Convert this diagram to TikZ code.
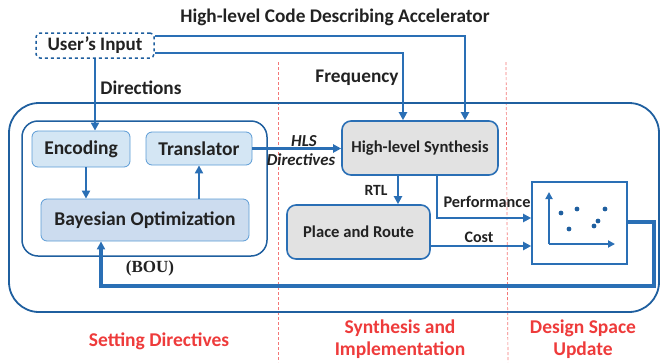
\documentclass[tikz,border=0pt]{standalone}
\usepackage{fontspec}
\setmainfont{Carlito}
\newfontfamily\serifbold{Liberation Serif}
\usetikzlibrary{arrows.meta}
\definecolor{lblue}{HTML}{2A6FB5}
\definecolor{dblue}{HTML}{1F5F9F}
\definecolor{encfill}{HTML}{D4E6F4}
\definecolor{bofill}{HTML}{CCDCEF}
\definecolor{encedge}{HTML}{5B9BD5}
\definecolor{greyfill}{HTML}{E2E2E2}
\definecolor{redtxt}{HTML}{EE3B3B}
\definecolor{txt}{HTML}{222222}
\tikzset{
  conn/.style={draw=lblue, line width=2.9pt, -{Triangle[length=8pt,width=8pt]}},
  lbl/.style={font=\bfseries\fontsize{19.3}{22}\selectfont, text=txt, inner sep=0pt},
  redlbl/.style={font=\bfseries\fontsize{19.5}{22}\selectfont, text=redtxt, inner sep=0pt, align=center},
  lightbox/.style={draw=encedge, line width=0.8pt, fill=encfill, rounded corners=6pt, font=\bfseries\fontsize{19.5}{22}\selectfont, text=txt},
  greybox/.style={draw=lblue, line width=1.6pt, fill=greyfill, rounded corners=9pt, font=\bfseries\fontsize{16.6}{20}\selectfont, text=txt},
  sepline/.style={draw=redtxt!70, line width=0.7pt, dash pattern=on 3pt off 2pt},
}
\begin{document}
\begin{tikzpicture}[x=1pt,y=-1pt]
\useasboundingbox (0,0) rectangle (660,362);
% separators
\draw[sepline] (278,62) -- (278,362);
\draw[sepline] (506,62) -- (508,362);
% outer and inner frames
\draw[dblue, line width=1.8pt, rounded corners=30pt] (9,103) rectangle (659,312);
\draw[dblue, line width=1.5pt, rounded corners=16pt] (22,121) rectangle (267,256);
% title
\node[lbl] (title) at (335,17) {High-level Code Describing Accelerator};
% nodes
\node[draw=dblue, line width=1.5pt, dashed, rounded corners=4pt, fill=white, minimum width=118pt, minimum height=25pt, inner sep=0pt, font=\bfseries\fontsize{19}{22}\selectfont, text=txt] (user) at (95,45.5) {User's Input};
\node[lightbox, minimum width=98pt, minimum height=36pt, inner sep=0pt] (enc) at (81,149) {Encoding};
\node[lightbox, minimum width=106pt, minimum height=33pt, inner sep=0pt] (trans) at (199,148.5) {Translator};
\node[lightbox, fill=bofill, minimum width=208pt, minimum height=42pt, inner sep=0pt] (bo) at (145,220) {Bayesian Optimization};
\node[greybox, minimum width=156pt, minimum height=54pt, inner sep=0pt] (hls) at (420,148) {High-level Synthesis};
\node[greybox, minimum width=143pt, minimum height=54pt, inner sep=0pt] (pr) at (358.5,232) {Place and Route};
\node[draw=lblue, line width=1.6pt, fill=white, minimum width=95pt, minimum height=82pt, inner sep=0pt] (graph) at (579.5,223) {};
% scatter plot
\coordinate (org) at (549,244);
\draw[draw=lblue, line width=2.6pt, -{Triangle[length=7pt,width=7pt]}] (org) -- (549,192);
\draw[draw=lblue, line width=2.6pt, -{Triangle[length=7pt,width=7pt]}] (org) -- (615,244);
\foreach \p in {(561,213),(577,209),(605,209),(569,229),(594,226),(598,221)}
  \fill[dblue] \p circle (2.4pt);
% connectors from user's input
\draw[conn] ([yshift=9.5pt]user.east) -| ([xshift=45pt]hls.north);
\draw[conn] ([yshift=-7.5pt]user.east) -| ([xshift=-17pt]hls.north);
\draw[conn] (user.south) -- (user.south |- enc.north);
% inner connectors
\draw[conn] ([xshift=5pt]enc.south) -- ([xshift=5pt]enc.south |- bo.north);
\draw[conn] (trans.south |- bo.north) -- (trans.south);
\draw[conn] (trans.east) -- (trans.east -| hls.west);
\draw[conn] ([xshift=-22pt]hls.south) -- ([xshift=-22pt]hls.south |- pr.north);
\draw[conn] ([xshift=17pt]hls.south) |- ([yshift=5pt]graph.west);
\draw[conn] ([yshift=-14pt]pr.east) -- ([yshift=-14pt]pr.east -| graph.west);
% feedback
\coordinate (fbt) at (654,222);
\coordinate (fbb) at (654,286);
\draw[draw=lblue, line width=3.3pt, -{Triangle[length=8pt,width=8pt]}] ([yshift=1pt]graph.east) -- (fbt) -- (fbb) -| ([xshift=-44pt]bo.south);
% labels
\node[lbl] (ldir) at (141,88) {Directions};
\node[lbl] (lfreq) at (357,78) {Frequency};
\node[lbl, font=\bfseries\itshape\fontsize{16.8}{20}\selectfont] (lhls) at (304,141) {HLS};
\node[lbl, font=\bfseries\itshape\fontsize{16.8}{20}\selectfont] (ldirv) at (301,160) {Directives};
\node[lbl, font=\bfseries\fontsize{15.6}{18}\selectfont] (lrtl) at (376,190) {RTL};
\node[lbl, font=\bfseries\fontsize{16.3}{19}\selectfont] (lperf) at (487,202) {Performance};
\node[lbl, font=\bfseries\fontsize{16}{19}\selectfont] (lcost) at (479,237) {Cost};
\node[lbl, font=\serifbold\bfseries\fontsize{17}{19}\selectfont] (lbou) at (150,268) {(BOU)};
\node[redlbl] (rsd) at (159,341) {Setting Directives};
\node[redlbl] (rsi) at (400,339) {Synthesis and\\Implementation};
\node[redlbl] (rds) at (583,339) {Design Space\\Update};
\end{tikzpicture}
\end{document}
